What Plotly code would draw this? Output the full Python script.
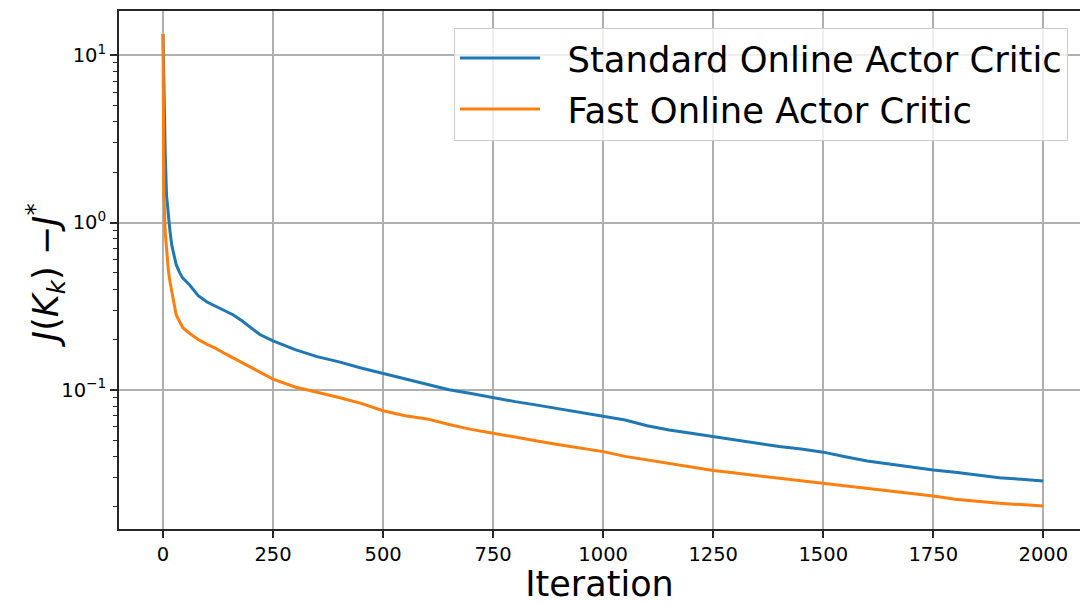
import plotly.graph_objects as go

iterations = [0, 2, 5, 8, 12, 16, 20, 25, 30, 38, 45, 60, 80, 100, 120, 140, 160, 180, 200, 220,
              250, 300, 350, 400, 450, 500, 550, 600, 650, 700, 750, 800, 850, 900, 950, 1000,
              1050, 1100, 1150, 1200, 1250, 1300, 1350, 1400, 1450, 1500, 1550, 1600, 1650, 1700,
              1750, 1800, 1850, 1900, 1950, 2000]

standard_ac = [13.4, 6.5, 2.6, 1.45, 1.08, 0.88, 0.73, 0.63, 0.56, 0.5, 0.465, 0.425, 0.365, 0.335,
               0.315, 0.297, 0.28, 0.258, 0.235, 0.214, 0.196, 0.174, 0.158, 0.147, 0.135, 0.125,
               0.116, 0.107, 0.1, 0.095, 0.0897, 0.085, 0.081, 0.077, 0.073, 0.0691, 0.066, 0.061,
               0.0575, 0.055, 0.0525, 0.0498, 0.0475, 0.0458, 0.0443, 0.0424, 0.0398, 0.0375,
               0.036, 0.0345, 0.0332, 0.0322, 0.031, 0.0298, 0.0292, 0.0285]

fast_ac = [13.4, 1.5, 0.88, 0.68, 0.52, 0.44, 0.38, 0.32, 0.28, 0.255, 0.235, 0.218, 0.2, 0.187,
           0.177, 0.165, 0.155, 0.145, 0.137, 0.128, 0.116, 0.104, 0.097, 0.09, 0.083, 0.075,
           0.07, 0.067, 0.062, 0.058, 0.055, 0.052, 0.0495, 0.047, 0.0447, 0.0427, 0.04, 0.038,
           0.0363, 0.0345, 0.0329, 0.0318, 0.0307, 0.0297, 0.0287, 0.0277, 0.0265, 0.0256,
           0.0248, 0.024, 0.0232, 0.0222, 0.0215, 0.021, 0.0206, 0.0202]

series_names = ["Standard Online Actor Critic", "Fast Online Actor Critic"]
series_colors = ["#1f77b4", "#ff7f0e"]

x_ticks = [0, 250, 500, 750, 1000, 1250, 1500, 1750, 2000]
y_ticks = [0.1, 1, 10]
y_ticktext = ["10<sup>\u22121</sup>", "10<sup>0</sup>", "10<sup>1</sup>"]
y_minor = [m * 10 ** e for e in (-2, -1, 0, 1) for m in range(2, 10)]
y_title = "<i>J</i>(<i>K</i><sub><i>k</i></sub>) \u2212<i>J</i><sup>*</sup>"

fig = go.Figure()
for name, vals, col, grp in zip(series_names, [standard_ac, fast_ac], series_colors, ["a", "b"]):
    fig.add_trace(go.Scatter(x=iterations, y=vals, mode="lines",
                             name="\u00a0\u00a0" + name, legendgroup=grp,
                             line=dict(color=col, width=3)))

axis_col = "#262626"
fig.update_layout(
    width=1080, height=604,
    margin=dict(l=119, r=0, t=11, b=75, autoexpand=False),
    paper_bgcolor="white", plot_bgcolor="white",
    font=dict(family="DejaVu Sans", color="black"),
    showlegend=True,
    legend=dict(
        x=0.9875, y=0.968, xanchor="right", yanchor="top",
        bgcolor="rgba(255,255,255,0.8)", bordercolor="#cccccc", borderwidth=1,
        font=dict(size=35.4, family="DejaVu Sans"),
        itemwidth=80, tracegroupgap=2,
    ),
    xaxis=dict(
        range=[-100, 2083.4], tickvals=x_ticks, ticks="outside", ticklen=7, tickwidth=1.8,
        tickcolor=axis_col, tickfont=dict(size=19.5), showline=True, linecolor=axis_col,
        linewidth=1.8, mirror=True, showgrid=True, gridcolor="#b0b0b0", gridwidth=1.6,
        zeroline=False, automargin=False,
        title=dict(text="Iteration", font=dict(size=35), standoff=10),
    ),
    yaxis=dict(
        type="log", range=[-1.832, 1.2645], tickvals=y_ticks, ticktext=y_ticktext,
        ticks="outside", ticklen=7, tickwidth=1.8, tickcolor=axis_col, tickfont=dict(size=19.5),
        showline=True, linecolor=axis_col, linewidth=1.8, mirror=False,
        showgrid=True, gridcolor="#b0b0b0", gridwidth=1.6, zeroline=False, automargin=False,
        minor=dict(tickvals=y_minor, ticks="outside", ticklen=4, tickwidth=1.2,
                   tickcolor=axis_col, showgrid=False),
    ),
    annotations=[dict(text=y_title, textangle=-90, xref="paper", yref="paper",
                      x=-0.077, y=0.49, xanchor="center", yanchor="middle",
                      showarrow=False, font=dict(size=35))],
)

fig.write_html("out.html", config={"displayModeBar": False},
               post_script="document.body.style.margin='0';document.body.style.overflow='hidden';")
